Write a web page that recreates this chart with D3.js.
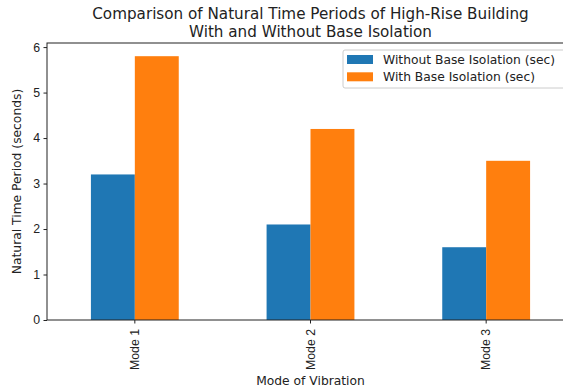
<!DOCTYPE html>
<html>
<head>
<meta charset="utf-8">
<script src="https://cdn.jsdelivr.net/npm/d3@7"></script>
<style>
  body { margin: 0; background: #fff; }
  svg { display: block; font-family: "DejaVu Sans", sans-serif; }
</style>
</head>
<body>
<div id="chart"></div>
<script>
var modes = ["Mode 1", "Mode 2", "Mode 3"];
var seriesNames = ["Without Base Isolation (sec)", "With Base Isolation (sec)"];
var withoutIso = [3.2, 2.1, 1.6];
var withIso = [5.8, 4.2, 3.5];
var yTicks = [0, 1, 2, 3, 4, 5, 6];
var colors = ["#1f77b4", "#ff7f0e"];

var width = 563, height = 390;
var mLeft = 47, mRight = 574, mTop = 43, mBottom = 320;
var fs = "12.3px";

var svg = d3.select("#chart").append("svg")
    .attr("width", width)
    .attr("height", height);

var x = d3.scaleBand().domain(modes).range([mLeft, mRight]).paddingInner(0.5).paddingOuter(0.25);
var xs = d3.scaleBand().domain([0, 1]).range([0, x.bandwidth()]);
var y = d3.scaleLinear().domain([0, 6.09]).range([mBottom, mTop]);

var series = [withoutIso, withIso];

series.forEach(function(vals, s){
    svg.selectAll(".bar" + s)
        .data(vals)
        .enter().append("rect")
        .attr("class", "bar" + s)
        .attr("x", function(d, i){ return x(modes[i]) + xs(s); })
        .attr("y", function(d){ return y(d); })
        .attr("width", xs.bandwidth())
        .attr("height", function(d){ return y(0) - y(d); })
        .attr("fill", colors[s]);
});

// axes
var yAxis = d3.axisLeft(y).tickValues(yTicks).tickSize(3.5).tickPadding(3.5).tickFormat(d3.format("d"));
var gy = svg.append("g").attr("transform", "translate(" + mLeft + ",0)").call(yAxis);
gy.select(".domain").remove();
gy.selectAll("text").attr("font-size", fs).attr("fill", "#222");
gy.selectAll("line").attr("stroke", "#222");

var xAxis = d3.axisBottom(x).tickSize(3.5).tickPadding(3.5);
var gx = svg.append("g").attr("transform", "translate(0," + mBottom + ")").call(xAxis);
gx.select(".domain").remove();
gx.selectAll("line").attr("stroke", "#222");
gx.selectAll("text")
    .attr("font-size", fs)
    .attr("fill", "#222")
    .attr("transform", "rotate(-90)")
    .attr("x", -9)
    .attr("y", 0)
    .attr("dy", "0.35em")
    .attr("text-anchor", "end");

// spines
svg.append("rect")
    .attr("x", mLeft).attr("y", mTop)
    .attr("width", mRight - mLeft).attr("height", mBottom - mTop)
    .attr("fill", "none").attr("stroke", "#222").attr("stroke-width", 1);

// title
var cx = (mLeft + mRight) / 2;
svg.append("text").attr("x", cx).attr("y", 19).attr("text-anchor", "middle")
    .attr("font-size", "15.2px").attr("fill", "#222")
    .text("Comparison of Natural Time Periods of High-Rise Building");
svg.append("text").attr("x", cx).attr("y", 37).attr("text-anchor", "middle")
    .attr("font-size", "15.2px").attr("fill", "#222")
    .text("With and Without Base Isolation");

// axis labels
svg.append("text").attr("x", cx).attr("y", 385).attr("text-anchor", "middle")
    .attr("font-size", fs).attr("fill", "#222").text("Mode of Vibration");
svg.append("text")
    .attr("transform", "translate(21," + ((mTop + mBottom) / 2) + ") rotate(-90)")
    .attr("text-anchor", "middle")
    .attr("font-size", fs).attr("fill", "#222")
    .text("Natural Time Period (seconds)");

// legend
var lg = svg.append("g");
lg.append("rect")
    .attr("x", 343).attr("y", 50).attr("width", 226).attr("height", 38)
    .attr("rx", 2).attr("fill", "#fff").attr("fill-opacity", 0.8)
    .attr("stroke", "#ccc");
seriesNames.forEach(function(name, i){
    lg.append("rect").attr("x", 347).attr("y", 55 + i * 17.3)
        .attr("width", 26).attr("height", 9).attr("fill", colors[i]);
    lg.append("text").attr("x", 383).attr("y", 59.5 + i * 17.3)
        .attr("dy", "0.35em").attr("font-size", fs).attr("fill", "#222")
        .text(name);
});
</script>
</body>
</html>
